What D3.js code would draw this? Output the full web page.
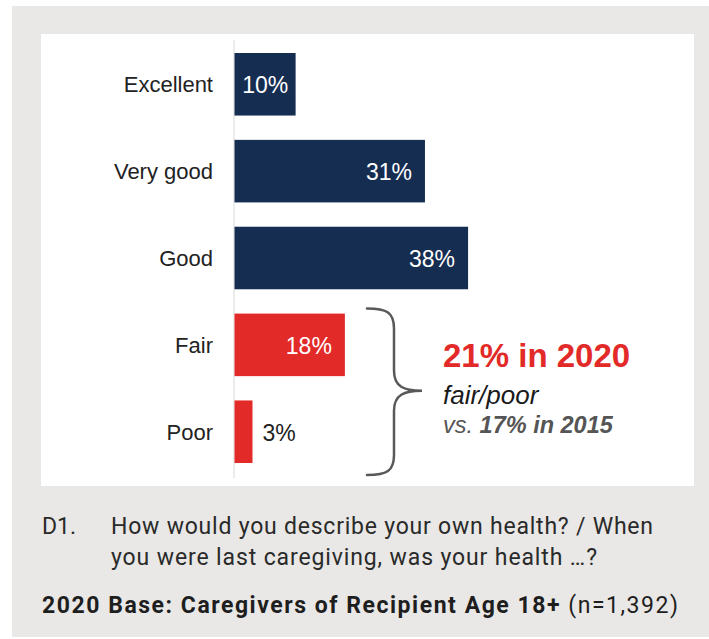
<!DOCTYPE html>
<html>
<head>
<meta charset="utf-8">
<script src="https://cdn.jsdelivr.net/npm/d3@7"></script>
<style>
  html, body { margin: 0; padding: 0; background: #ffffff; }
  svg { display: block; }
</style>
</head>
<body>
<svg id="chart" width="709" height="639"></svg>
<script>
// ---- data ----
const categories = ["Excellent", "Very good", "Good", "Fair", "Poor"];
const values = [10, 31, 38, 18, 3];
const groups = ["top", "top", "top", "low", "low"];
const valueLabels = ["10%", "31%", "38%", "18%", "3%"];
const annotationHeadline = "21% in 2020";
const annotationSub = "fair/poor";
const annotationVsPrefix = "vs. ";
const annotationVsValue = "17% in 2015";
const footnoteCode = "D1.";
const footnoteLines = ["How would you describe your own health? / When", "you were last caregiving, was your health \u2026?"];
const baseBold = "2020 Base: Caregivers of Recipient Age 18+";
const baseRegular = " (n=1,392)";

// ---- styles ----
const colors = { top: "#162d52", low: "#e22a28" };
const svg = d3.select("#chart");
const cf = "'Liberation Sans', Arial, sans-serif";

// backgrounds
svg.append("rect").attr("x", 12).attr("y", 6).attr("width", 697).attr("height", 631).attr("fill", "#e9e8e6");
svg.append("rect").attr("x", 41).attr("y", 34).attr("width", 653).attr("height", 452).attr("fill", "#ffffff");

// scales
const x = d3.scaleLinear().domain([0, 40]).range([234, 234 + 40 * 6.16]);
const y = d3.scaleBand().domain(categories).range([53, 463]).paddingInner(0.28).paddingOuter(0);
const bw = y.bandwidth();

// axis line
svg.append("line").attr("x1", x(0)).attr("x2", x(0)).attr("y1", 40).attr("y2", 478)
  .attr("stroke", "#d9d9d9").attr("stroke-width", 1);

const data = categories.map((c, i) => ({ c, v: values[i], g: groups[i], l: valueLabels[i] }));

// bars
svg.selectAll("rect.bar").data(data).join("rect").attr("class", "bar")
  .attr("x", x(0) + 0.5).attr("y", d => y(d.c))
  .attr("width", d => x(d.v) - x(0) - 0.5).attr("height", bw)
  .attr("fill", d => colors[d.g]);

// category labels
svg.selectAll("text.cat").data(data).join("text").attr("class", "cat")
  .attr("x", 213).attr("y", d => y(d.c) + bw / 2 + 8)
  .attr("text-anchor", "end")
  .attr("font-family", cf).attr("font-size", 22)
  .attr("fill", "#222222").text(d => d.c);

// value labels
const vfs = 23;
svg.selectAll("text.val").data(data).join("text").attr("class", "val")
  .attr("font-family", cf).attr("font-size", vfs)
  .attr("y", d => y(d.c) + bw / 2 + 9)
  .text(d => d.l)
  .each(function (d) {
    const t = d3.select(this);
    const w = this.getComputedTextLength();
    const barW = x(d.v) - x(0);
    if (barW >= w + 30) {
      t.attr("x", x(d.v) - 13).attr("text-anchor", "end").attr("fill", "#ffffff");
    } else if (barW >= w + 6) {
      t.attr("x", x(0) + barW / 2 + 0.5).attr("text-anchor", "middle").attr("fill", "#ffffff");
    } else {
      t.attr("x", x(d.v) + 10).attr("text-anchor", "start").attr("fill", "#222222");
    }
  });

// brace spanning fair/poor group
const low = data.filter(d => d.g === "low");
const bTop = y(low[0].c) - 5;
const bBot = y(low[low.length - 1].c) + bw + 12;
const bMid = (bTop + bBot) / 2 - 1;
const bx0 = 367, bx1 = 394, bTip = 422;
const r = 20;
const brace = d3.path();
brace.moveTo(bx0, bTop);
brace.bezierCurveTo(bx0 + 20, bTop, bx1, bTop + 4, bx1, bTop + r);
brace.lineTo(bx1, bMid - r);
brace.bezierCurveTo(bx1, bMid - 4, bx1 + 10, bMid, bTip, bMid);
brace.bezierCurveTo(bx1 + 10, bMid, bx1, bMid + 4, bx1, bMid + r);
brace.lineTo(bx1, bBot - r);
brace.bezierCurveTo(bx1, bBot - 4, bx0 + 20, bBot, bx0, bBot);
svg.append("path").attr("d", brace.toString()).attr("fill", "none")
  .attr("stroke", "#595959").attr("stroke-width", 2.5).attr("stroke-linecap", "round");

// annotation
const ax = 443;
svg.append("text").attr("x", ax).attr("y", 367).attr("font-family", cf)
  .attr("font-size", 33).attr("font-weight", "bold").attr("fill", "#e22a28").text(annotationHeadline);
svg.append("text").attr("x", ax).attr("y", 404).attr("font-family", cf)
  .attr("font-size", 26).attr("font-style", "italic").attr("fill", "#1a1a1a").text(annotationSub);
const vs = svg.append("text").attr("x", ax).attr("y", 433).attr("font-family", cf)
  .attr("font-size", 23.5).attr("font-style", "italic").attr("fill", "#555555");
vs.append("tspan").text(annotationVsPrefix);
vs.append("tspan").attr("font-weight", "bold").text(annotationVsValue);

// footnote
const ff = "Roboto, sans-serif";
const lineLens = [542, 486];
svg.append("text").attr("x", 42).attr("y", 534).attr("font-family", ff).attr("font-size", 23)
  .attr("fill", "#2a2a2a").text(footnoteCode);
footnoteLines.forEach((l, i) => {
  svg.append("text").attr("x", 111).attr("y", 534 + i * 31).attr("font-family", ff).attr("font-size", 23)
    .attr("textLength", lineLens[i]).attr("lengthAdjust", "spacing")
    .attr("fill", "#2a2a2a").text(l);
});
const base = svg.append("text").attr("x", 42).attr("y", 613).attr("font-family", ff).attr("font-size", 23)
  .attr("textLength", 636).attr("lengthAdjust", "spacing")
  .attr("fill", "#1e1e1e");
base.append("tspan").attr("font-weight", "bold").text(baseBold);
base.append("tspan").text(baseRegular);
</script>
</body>
</html>
